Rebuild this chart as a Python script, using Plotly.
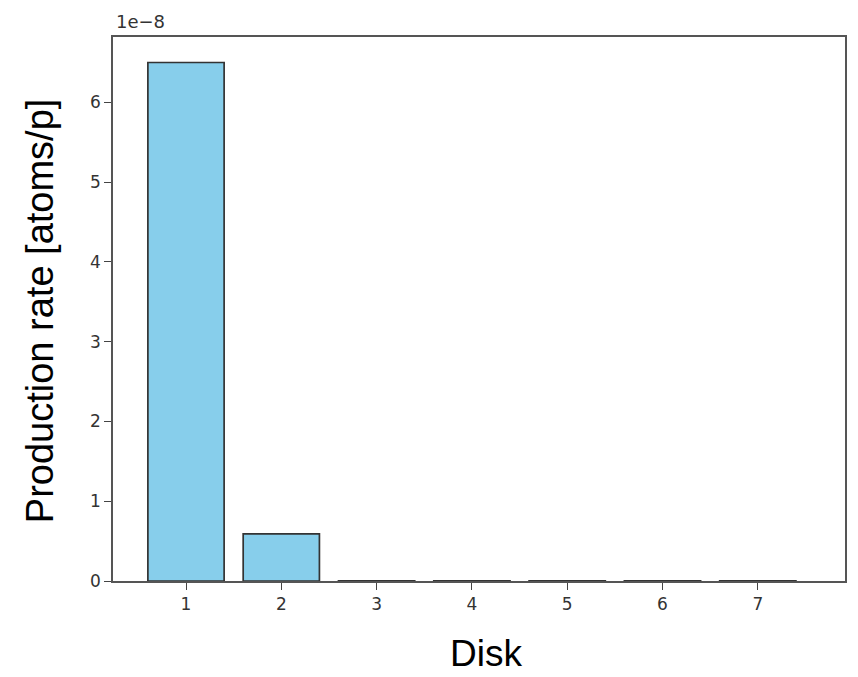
import plotly.graph_objects as go

disks = [1, 2, 3, 4, 5, 6, 7]
production_rate = [6.5e-8, 0.59e-8, 2e-11, 1.5e-11, 1e-11, 1e-11, 1e-11]
y_tick_vals = [0, 1e-8, 2e-8, 3e-8, 4e-8, 5e-8, 6e-8]
y_tick_text = ["0", "1", "2", "3", "4", "5", "6"]
x_tick_text = ["1", "2", "3", "4", "5", "6", "7"]

fig = go.Figure()
fig.add_trace(go.Bar(
    x=disks, y=production_rate, width=0.8,
    marker=dict(color="#87CEEB", line=dict(color="#333333", width=1.7)),
))

tickfont = dict(family="DejaVu Sans", size=17, color="#333333")
fig.update_layout(
    width=858, height=677,
    margin=dict(l=113, r=13, t=37, b=96),
    paper_bgcolor="white", plot_bgcolor="white",
    showlegend=False,
    xaxis=dict(range=[0.234, 7.915], tickvals=disks, ticktext=x_tick_text,
               showgrid=False, zeroline=False, showline=True, mirror=True,
               linecolor="#555555", linewidth=1.7, ticks="outside", ticklen=7,
               tickcolor="#444444", tickwidth=1.4, tickfont=tickfont),
    yaxis=dict(range=[0, 6.82e-8], tickvals=y_tick_vals, ticktext=y_tick_text,
               showgrid=False, zeroline=False, showline=True, mirror=True,
               linecolor="#555555", linewidth=1.7, ticks="outside", ticklen=7,
               tickcolor="#444444", tickwidth=1.4, tickfont=tickfont),
    annotations=[
        dict(text="1e\u22128", xref="paper", yref="paper", x=0.002, y=1.028,
             xanchor="left", yanchor="middle", showarrow=False,
             font=dict(family="DejaVu Sans", size=18, color="#333333")),
        dict(text="Production rate [atoms/p]", xref="paper", yref="paper",
             x=-0.0997, y=0.496, xanchor="center", yanchor="middle",
             textangle=-90, showarrow=False,
             font=dict(family="Liberation Sans", size=38, color="black")),
        dict(text="Disk", xref="paper", yref="paper", x=0.51, y=-0.134,
             xanchor="center", yanchor="middle", showarrow=False,
             font=dict(family="Liberation Sans", size=37, color="black")),
    ],
)
fig.write_html("out.html")
